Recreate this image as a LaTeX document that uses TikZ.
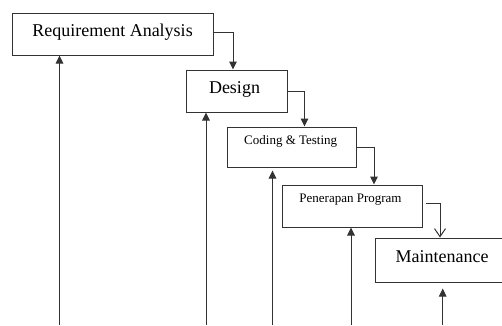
\documentclass[tikz,border=0pt]{standalone}
\usepackage{fontspec}
\setmainfont{Liberation Serif}
\usetikzlibrary{arrows.meta}
\begin{document}
\begin{tikzpicture}[x=1pt,y=-1pt,
  box/.style={draw=black!80, line width=1pt, inner sep=0pt},
  big/.style={font=\fontsize{18}{20}\selectfont, inner sep=0pt, anchor=base},
  small/.style={font=\fontsize{13}{15}\selectfont, inner sep=0pt, anchor=base},
  conn/.style={draw=black!80, line width=1pt, -{Triangle[length=8pt,width=7.5pt]}},
  openconn/.style={draw=black!80, line width=1pt, -{Straight Barb[length=8pt,width=11pt]}}
]
\clip (0,0) rectangle (502,325);
\fill[white] (0,0) rectangle (502,325);
% boxes
\node[box, minimum width=201pt, minimum height=42pt] (ra) at (112.5,34) {};
\node[box, minimum width=101pt, minimum height=42pt] (ds) at (236.5,91) {};
\node[box, minimum width=129pt, minimum height=40pt] (cd) at (291.5,147) {};
\node[box, minimum width=140pt, minimum height=42pt] (pp) at (352,206) {};
\node[box, minimum width=134pt, minimum height=44pt] (mt) at (442,260) {};
% texts
\node[big] (ratext) at (112.5,36) {Requirement Analysis};
\node[big] (dstext) at (234.5,93) {Design};
\node[small] (cdtext) at (290.7,144) {Coding \& Testing};
\node[small] (pptext) at (350.5,202) {Penerapan Program};
\node[big] (mttext) at (442,262) {Maintenance};
% downward connectors
\draw[conn] ([yshift=2pt]ra.east) -| ([xshift=-3.5pt]ds.north);
\draw[conn] (ds.east) -| ([xshift=13pt]cd.north);
\draw[conn] (cd.east) -| ([xshift=22pt]pp.north);
\draw[openconn] ([xshift=3pt,yshift=3pt]pp.east) -| ([xshift=-2pt]mt.north);
% upward connectors
\coordinate (b1) at (59.5,325);
\coordinate (b2) at (206,325);
\coordinate (b3) at (272.5,325);
\coordinate (b4) at (351,325);
\coordinate (b5) at (442.7,325);
\draw[conn] (b1) -- (b1 |- ra.south);
\draw[conn] (b2) -- (b2 |- ds.south);
\draw[conn, shorten >=3pt] (b3) -- (b3 |- cd.south);
\draw[conn] (b4) -- (b4 |- pp.south);
\draw[conn, shorten >=6pt] (b5) -- (b5 |- mt.south);
\end{tikzpicture}
\end{document}
